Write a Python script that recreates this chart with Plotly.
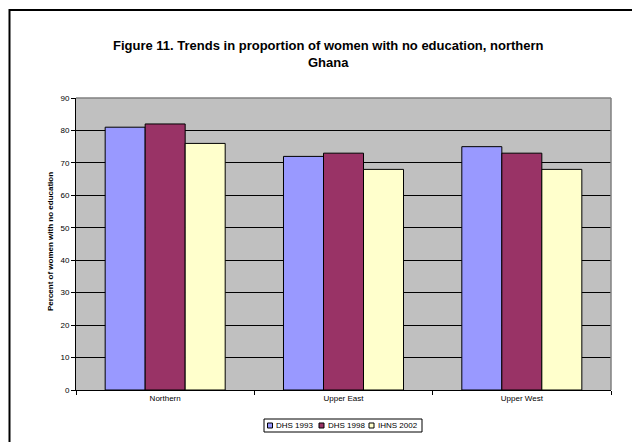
import plotly.graph_objects as go

# Regions of northern Ghana and the survey series
regions = ["Northern", "Upper East", "Upper West"]
series_names = ["DHS 1993", "DHS 1998", "IHNS 2002"]
dhs_1993 = [81, 72, 75]
dhs_1998 = [82, 73, 73]
ihns_2002 = [76, 68, 68]
series_values = [dhs_1993, dhs_1998, ihns_2002]
series_colors = ["#9999FF", "#993366", "#FFFFCC"]
y_ticks = [0, 10, 20, 30, 40, 50, 60, 70, 80, 90]

title_text = "Figure 11. Trends in proportion of women with no education, northern<br>Ghana"
y_title = "Percent of women with no education"

# Page and plot-area geometry (pixels)
W, H = 632, 442
L, R, T, B = 76, 21, 98, 52
PW, PH = W - L - R, H - T - B


def px(x):
    return (x - L) / PW


def py(y):
    return (H - B - y) / PH


FONT = "Liberation Sans, Arial, sans-serif"

fig = go.Figure()
for name, vals, col in zip(series_names, series_values, series_colors):
    fig.add_trace(go.Bar(
        x=regions, y=vals, name=name,
        marker=dict(color=col, line=dict(color="#000000", width=1)),
        showlegend=False,
    ))

shapes = [
    # outer chart frame
    dict(type="rect", xref="paper", yref="paper",
         x0=px(9.5), x1=px(720), y0=py(10), y1=py(480),
         line=dict(color="#000000", width=2), layer="above"),
    # plot-area border (top and right)
    dict(type="line", xref="paper", yref="paper", x0=0, x1=1, y0=1, y1=1,
         line=dict(color="#808080", width=1.5), layer="above"),
    dict(type="line", xref="paper", yref="paper", x0=1, x1=1, y0=0, y1=1,
         line=dict(color="#808080", width=1.5), layer="above"),
    # legend box
    dict(type="rect", xref="paper", yref="paper",
         x0=px(264), x1=px(422), y0=py(419), y1=py(432),
         line=dict(color="#000000", width=1), fillcolor="#FFFFFF", layer="above"),
]

annotations = [
    dict(text="<b>" + title_text + "</b>", xref="paper", yref="paper",
         x=px(328), y=py(54), xanchor="center", yanchor="middle",
         showarrow=False, align="center",
         font=dict(family=FONT, size=13, color="#000000")),
    dict(text="<b>" + y_title + "</b>", xref="paper", yref="paper",
         x=px(50), y=py(242), textangle=-90, xanchor="center", yanchor="middle",
         showarrow=False, font=dict(family=FONT, size=8, color="#000000")),
]

# Legend entries: swatch + label
legend_sw_x = [267.5, 319, 369]
for sx, name, col in zip(legend_sw_x, series_names, series_colors):
    shapes.append(dict(type="rect", xref="paper", yref="paper",
                       x0=px(sx), x1=px(sx + 5), y0=py(423), y1=py(428),
                       line=dict(color="#000000", width=1), fillcolor=col,
                       layer="above"))
    annotations.append(dict(text=name, xref="paper", yref="paper",
                            x=px(sx + 6.5), y=py(425.5), xanchor="left",
                            yanchor="middle", showarrow=False,
                            font=dict(family=FONT, size=8, color="#000000")))

fig.update_layout(
    width=W, height=H,
    margin=dict(l=L, r=R, t=T, b=B, pad=0),
    paper_bgcolor="#FFFFFF",
    plot_bgcolor="#C0C0C0",
    barmode="group",
    bargap=0.327,
    bargroupgap=0,
    font=dict(family=FONT, size=8, color="#000000"),
    shapes=shapes,
    annotations=annotations,
    showlegend=False,
    xaxis=dict(
        showgrid=False, showline=True, linecolor="#000000", linewidth=1,
        ticks="outside", ticklen=4, tickcolor="#000000", tickson="boundaries",
        tickfont=dict(family=FONT, size=8, color="#000000"),
        zeroline=False,
    ),
    yaxis=dict(
        range=[0, 90], tickvals=y_ticks, showgrid=True, gridcolor="#000000",
        gridwidth=1, showline=True, linecolor="#000000", linewidth=1,
        ticks="outside", ticklen=4, tickcolor="#000000",
        tickfont=dict(family=FONT, size=8, color="#000000"),
        zeroline=False,
    ),
)

fig.write_html("out.html")
